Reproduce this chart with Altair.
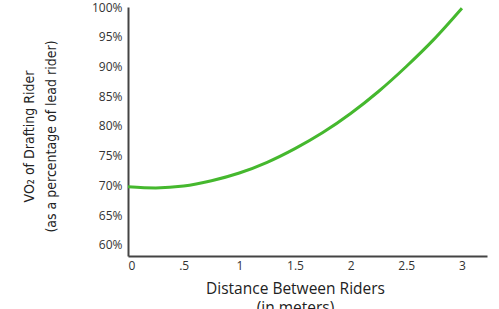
import altair as alt
import pandas as pd

distance = [0, 0.25, 0.5, 0.75, 1.0, 1.25, 1.5, 1.75, 2.0, 2.25, 2.5, 2.75, 3.0]
vo2 = [69.8, 69.6, 69.9, 70.8, 72.1, 73.9, 76.2, 78.9, 82.1, 85.8, 90.0, 94.6, 99.8]
x_ticks = [0, 0.5, 1, 1.5, 2, 2.5, 3]
y_ticks = [60, 65, 70, 75, 80, 85, 90, 95, 100]

df = pd.DataFrame({"distance": distance, "vo2": vo2})

label_font = "Open Sans"
title_font = "Liberation Sans Narrow, DejaVu Sans Condensed, Roboto"

chart = (
    alt.Chart(df)
    .mark_line(color="#45b82e", strokeWidth=3, interpolate="monotone")
    .encode(
        x=alt.X(
            "distance:Q",
            scale=alt.Scale(domain=[0, 3.225], nice=False, zero=False),
            axis=alt.Axis(
                values=x_ticks,
                labelExpr="replace(toString(datum.value), '0.5', '.5')",
                title=["Distance Between Riders", "(in meters)"],
                titleFont=label_font,
                titleFontSize=15.5,
                titleFontWeight="normal",
                titleColor="#222",
                titleX=167,
                titleY=32,
                titleAlign="center",
                titleBaseline="middle",
                titleLineHeight=19,
                labelFont=label_font,
                labelFontSize=12,
                labelColor="#333",
                labelPadding=4,
                ticks=False,
                grid=False,
                domainColor="#444",
                domainWidth=2,
            ),
        ),
        y=alt.Y(
            "vo2:Q",
            scale=alt.Scale(domain=[58.15, 100], nice=False, zero=False),
            axis=alt.Axis(
                values=y_ticks,
                labelExpr="datum.value + '%'",
                title=["VO₂ of Drafting Rider", "(as a percentage of lead rider)"],
                titleFont=title_font,
                titleFontSize=14,
                titleFontWeight="normal",
                titleColor="#222",
                titleAngle=270,
                titleX=-99,
                titleY=129,
                titleAlign="center",
                titleBaseline="middle",
                titleLineHeight=22,
                labelFont=label_font,
                labelFontSize=12,
                labelColor="#333",
                labelPadding=6,
                ticks=False,
                grid=False,
                domainColor="#444",
                domainWidth=2,
            ),
        ),
    )
    .properties(
        width=359,
        height=249,
        autosize=alt.AutoSizeParams(type="none"),
        padding={"left": 128, "top": 7, "right": 12, "bottom": 53},
        background="white",
    )
    .configure_view(stroke=None)
)

chart.save("out.html", embed_options={"renderer": "svg", "actions": False})
